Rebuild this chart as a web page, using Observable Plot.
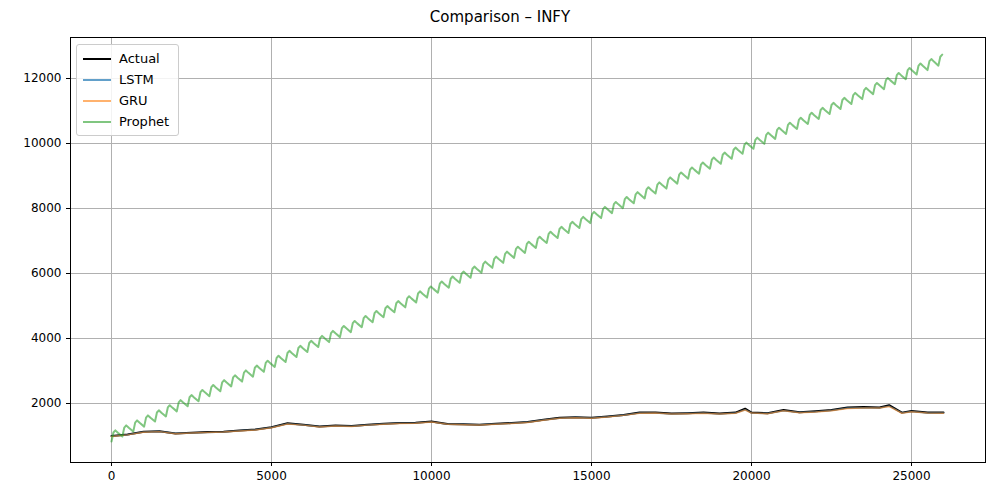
<!DOCTYPE html>
<html><head><meta charset="utf-8">
<script src="https://cdn.jsdelivr.net/npm/d3@7"></script>
<script src="https://cdn.jsdelivr.net/npm/@observablehq/plot@0.6"></script>
<style>
body{margin:0;font-family:"DejaVu Sans",sans-serif;background:#fff}
#wrap{position:relative;width:1000px}
#title{height:30px;line-height:34px;text-align:center;font-size:15px}
#legend{position:absolute;left:76px;top:44px;width:101px;border:1px solid #ccc;border-radius:3px;background:rgba(255,255,255,.85);font-size:13px;padding:3px 0}
#legend div{height:21px;line-height:21px;display:flex;align-items:center}
#legend span{display:inline-block;width:28px;height:2px;margin:0 8px 0 6px}
</style></head><body>
<div id="wrap"><div id="title">Comparison – INFY</div><div id="chart"></div>
<div id="legend">
<div><span style="background:#000"></span>Actual</div>
<div><span style="background:#1f77b4;opacity:.7"></span>LSTM</div>
<div><span style="background:#ff7f0e;opacity:.6"></span>GRU</div>
<div><span style="background:#2ca02c;opacity:.6"></span>Prophet</div>
</div></div>
<script>
const steps = [0,500,1000,1500,2000,2500,3000,3500,4000,4500,5000,5500,6000,6500,7000,7500,8000,8500,9000,9500,10000,10500,11000,11500,12000,12500,13000,13500,14000,14500,15000,15500,16000,16500,17000,17500,18000,18500,19000,19500,19800,20000,20500,21000,21500,22000,22500,23000,23500,24000,24300,24700,25000,25500,26000]
const actual = [1000,1050,1130,1150,1080,1100,1120,1130,1170,1200,1270,1390,1350,1290,1320,1310,1350,1380,1400,1410,1450,1370,1360,1350,1380,1400,1430,1500,1560,1580,1560,1600,1650,1720,1720,1690,1700,1720,1690,1720,1840,1720,1700,1800,1730,1760,1800,1880,1890,1880,1950,1720,1770,1720,1720]
const lstm =   [990,1040,1120,1140,1075,1095,1110,1125,1160,1190,1260,1375,1340,1285,1310,1300,1340,1370,1390,1400,1435,1365,1355,1345,1370,1390,1420,1490,1550,1570,1555,1590,1640,1705,1710,1680,1690,1705,1680,1705,1810,1710,1690,1780,1720,1745,1785,1860,1870,1865,1920,1710,1755,1710,1705]
const gru =    [985,1035,1115,1135,1070,1090,1105,1120,1155,1185,1255,1370,1335,1280,1305,1295,1335,1365,1385,1395,1430,1360,1350,1340,1365,1385,1415,1485,1545,1565,1550,1585,1635,1700,1705,1675,1685,1700,1675,1700,1800,1705,1685,1775,1715,1740,1780,1850,1860,1860,1910,1700,1750,1705,1700]
// Prophet: trend read every 1000 steps, plus the repeating tooth shape (period ~340)
const prophetTrendX = [0,1000,2000,3000,4000,5000,6000,7000,8000,9000,10000,11000,12000,13000,14000,15000,16000,17000,18000,19000,20000,21000,22000,23000,24000,25000,26000]
const prophetTrend = [950,1400,1860,2320,2760,3200,3650,4100,4550,5000,5440,5890,6340,6790,7240,7690,8140,8580,9030,9480,9930,10380,10830,11280,11730,12180,12580]
const toothX = [0,60,120,200,340]
const toothDy = [-120,130,170,60,-120]

const trendAt = d3.scaleLinear(prophetTrendX, prophetTrend)
const prophet = []
for (let p = 0; p < 26000; p += 340)
  toothX.forEach((t, i) => { if (p + t <= 26000) prophet.push({x: p + t, y: trendAt(p + t) + toothDy[i]}) })

const rows = (ys) => steps.map((x, i) => ({x, y: ys[i]}))

const chart = Plot.plot({
  width: 1000, height: 470,
  marginTop: 7, marginBottom: 38, marginLeft: 70, marginRight: 15,
  style: {fontSize: "12px", fontFamily: "DejaVu Sans"},
  x: {domain: [-1281, 27312], ticks: [0,5000,10000,15000,20000,25000], tickFormat: d => String(d), tickSize: 4, label: null},
  y: {domain: [185, 13262], ticks: [2000,4000,6000,8000,10000,12000], tickFormat: d => String(d), tickSize: 4, label: null},
  marks: [
    Plot.gridX([0,5000,10000,15000,20000,25000], {stroke: "#b0b0b0", strokeOpacity: 1}),
    Plot.gridY([2000,4000,6000,8000,10000,12000], {stroke: "#b0b0b0", strokeOpacity: 1}),
    Plot.line(rows(actual), {x: "x", y: "y", stroke: "#000", strokeWidth: 2}),
    Plot.line(rows(lstm), {x: "x", y: "y", stroke: "#1f77b4", strokeOpacity: 0.7, strokeWidth: 1.5}),
    Plot.line(rows(gru), {x: "x", y: "y", stroke: "#ff7f0e", strokeOpacity: 0.6, strokeWidth: 1.5}),
    Plot.line(prophet, {x: "x", y: "y", stroke: "#2ca02c", strokeOpacity: 0.6, strokeWidth: 2}),
    Plot.frame({stroke: "#000"})
  ]
})
d3.select('#chart').append(() => chart)
</script></body></html>
